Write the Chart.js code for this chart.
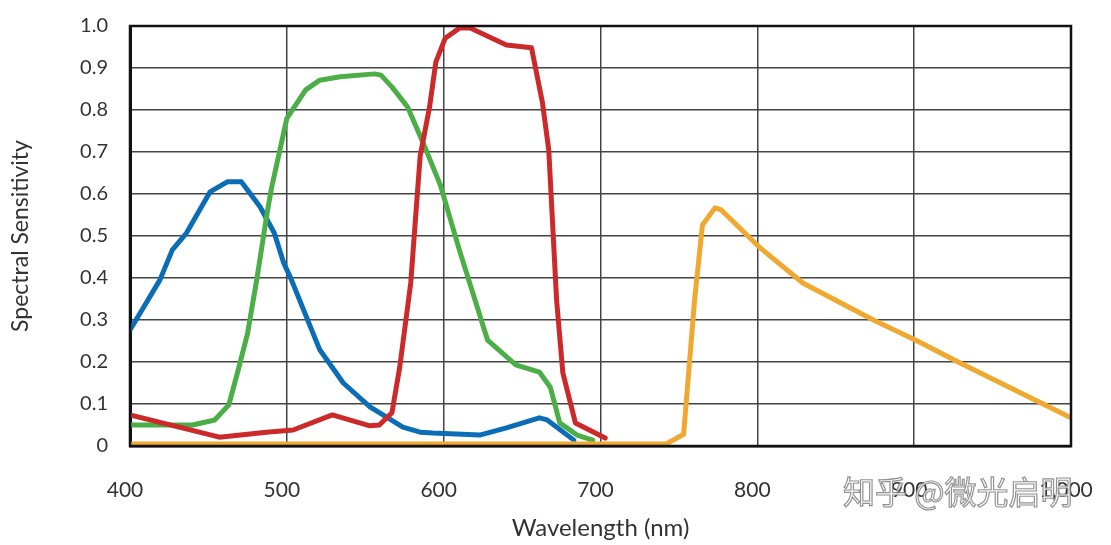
<!DOCTYPE html>
<html>
<head>
<meta charset="utf-8">
<script src="https://cdn.jsdelivr.net/npm/chart.js@4"></script>
<style>
  html, body { margin: 0; padding: 0; background: #fff; }
  #wrap { width: 1111px; height: 545px; position: relative; }
</style>
</head>
<body>
<div id="wrap"><canvas id="sensChart"></canvas></div>
<script>
// wavelengths (nm) and spectral sensitivity for each channel
const blueNm = [400, 419, 427, 436, 451, 462, 471, 483, 492, 498, 503, 521, 536, 553, 574, 585, 593, 623, 640, 661, 666, 683];
const blueVal = [0.276, 0.395, 0.467, 0.507, 0.605, 0.629, 0.629, 0.569, 0.507, 0.436, 0.395, 0.229, 0.15, 0.093, 0.045, 0.033, 0.031, 0.026, 0.043, 0.067, 0.062, 0.014];

const greenNm = [400, 440, 454, 463, 469, 475, 481, 487, 490, 500, 512, 521, 534, 556, 560, 567, 577, 587, 598, 610, 628, 646, 661, 668, 674, 685, 695];
const greenVal = [0.05, 0.05, 0.062, 0.098, 0.181, 0.269, 0.40, 0.545, 0.61, 0.78, 0.848, 0.871, 0.879, 0.886, 0.883, 0.855, 0.807, 0.721, 0.62, 0.467, 0.252, 0.193, 0.176, 0.14, 0.055, 0.026, 0.014];

const redNm = [400, 457, 487, 504, 529, 553, 559, 567, 572, 579, 585, 591, 595, 601, 610, 617, 640, 656, 663, 667, 672, 676, 684, 703];
const redVal = [0.074, 0.021, 0.033, 0.038, 0.074, 0.048, 0.05, 0.079, 0.188, 0.388, 0.69, 0.807, 0.914, 0.971, 0.995, 0.995, 0.955, 0.948, 0.817, 0.705, 0.348, 0.174, 0.055, 0.019];

const nirNm = [400, 742, 753, 760, 765, 773, 777, 802, 829, 874, 903, 929, 999];
const nirVal = [0.005, 0.005, 0.028, 0.348, 0.526, 0.567, 0.562, 0.471, 0.388, 0.30, 0.248, 0.198, 0.069];

const xTicks = [400, 500, 600, 700, 800, 900, 1000];
const yTicks = [0, 0.1, 0.2, 0.3, 0.4, 0.5, 0.6, 0.7, 0.8, 0.9, 1.0];

function pts(xs, ys) {
    return xs.map((x, i) => ({ x: x, y: ys[i] }));
}

const frame = {
    id: 'frame',
    afterDraw(chart) {
        const ctx = chart.ctx;
        const a = chart.chartArea;
        ctx.save();
        ctx.strokeStyle = '#111';
        ctx.lineWidth = 2.5;
        ctx.strokeRect(a.left, a.top, a.right - a.left, a.bottom - a.top);
        // watermark
        ctx.font = '32px "Noto Sans CJK SC"';
        ctx.textBaseline = 'middle';
        ctx.textAlign = 'left';
        ctx.lineWidth = 1.2;
        ctx.strokeStyle = 'rgba(110,110,110,0.75)';
        ctx.fillStyle = 'rgba(255,255,255,0.85)';
        ctx.fillText('知乎 @微光启明', 843, 492);
        ctx.strokeText('知乎 @微光启明', 843, 492);
        ctx.restore();
    }
};

const lineOpts = { borderWidth: 5, pointRadius: 0, tension: 0, fill: false, borderJoinStyle: 'round', borderCapStyle: 'round' };

const ctx = document.getElementById('sensChart').getContext('2d');
new Chart(ctx, {
    type: 'line',
    data: {
        datasets: [
            Object.assign({ label: 'NIR', data: pts(nirNm, nirVal), borderColor: '#f0a830' }, lineOpts),
            Object.assign({ label: 'Red', data: pts(redNm, redVal), borderColor: '#cc2a2a' }, lineOpts),
            Object.assign({ label: 'Green', data: pts(greenNm, greenVal), borderColor: '#4bae46' }, lineOpts),
            Object.assign({ label: 'Blue', data: pts(blueNm, blueVal), borderColor: '#0b6db5' }, lineOpts)
        ]
    },
    options: {
        responsive: true,
        maintainAspectRatio: false,
        animation: false,
        layout: { padding: { top: 26, right: 40, left: 0, bottom: 0 } },
        plugins: { legend: { display: false }, tooltip: { enabled: false } },
        scales: {
            x: {
                type: 'linear',
                min: 400,
                max: 1000,
                afterBuildTicks: s => { s.ticks = xTicks.map(v => ({ value: v })); },
                afterFit: s => { s.height = 99; s.paddingLeft = 0; s.paddingRight = 0; },
                grid: { color: '#444', lineWidth: 1.5, drawTicks: false },
                border: { color: '#111', width: 2.5 },
                ticks: { color: '#333', padding: 32, labelOffset: -5, font: { family: 'Lato', size: 21 } },
                title: { display: true, text: 'Wavelength (nm)', color: '#333', font: { family: 'Lato', size: 24 }, padding: 2 }
            },
            y: {
                min: 0,
                max: 1,
                afterBuildTicks: s => { s.ticks = yTicks.map(v => ({ value: v })); },
                afterFit: s => { s.width = 130; s.paddingTop = 0; s.paddingBottom = 0; },
                grid: { color: '#444', lineWidth: 1.5, drawTicks: false },
                border: { color: '#111', width: 3 },
                ticks: {
                    color: '#333', padding: 22, font: { family: 'Lato', size: 20 },
                    callback: v => (v === 0 ? '0' : v.toFixed(1))
                },
                title: { display: true, text: 'Spectral Sensitivity', color: '#333', font: { family: 'Lato', size: 23 }, padding: 7 }
            }
        }
    },
    plugins: [frame]
});
</script>
</body>
</html>
